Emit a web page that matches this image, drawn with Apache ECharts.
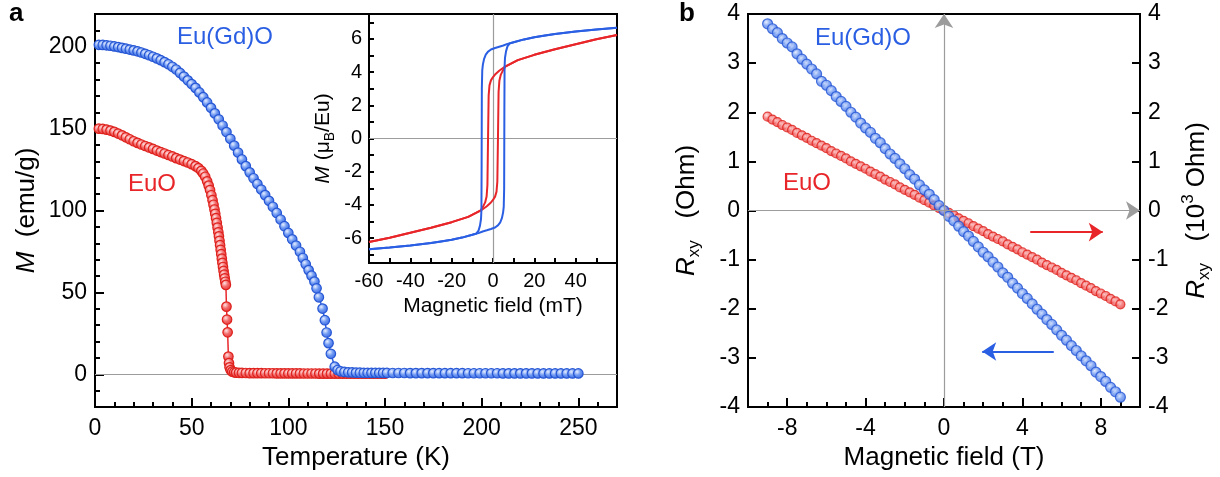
<!DOCTYPE html>
<html>
<head>
<meta charset="utf-8">
<script src="https://cdn.jsdelivr.net/npm/echarts@6/dist/echarts.min.js"></script>
<style>
  html, body { margin: 0; padding: 0; background: #fff; }
  #wrap { position: relative; width: 1220px; height: 477px; }
  .layer { position: absolute; left: 0; top: 0; width: 1220px; height: 477px; }
</style>
</head>
<body>
<div id="wrap">
  <div class="layer" id="panelA"></div>
  <div class="layer" id="inset"></div>
  <div class="layer" id="panelB"></div>
</div>
<script>
// ---- panel a: M(T) ----
const tempEuO = [2,4,6,8,10,12,14,16,18,20,22,24,26,28,30,32,34,36,38,40,42,44,46,48,50,52,
  53.5,55,56,57,58,58.8,59.5,60.2,60.8,61.3,61.8,62.2,62.6,63,63.4,63.8,
  64.1,64.4,64.7,65,65.3,65.6,65.9,66.2,66.5,66.8,67.1,67.4,67.7,
  68,68.3,68.6,69,69.3,69.6,70.2,71,72,73,74.5,76,78,
  80,82,84,86,88,90,92,94,96,98,100,102,104,106,108,110,112,114,116,118,120,122,124,126,128,130,132,134,136,138,140,142,144,146,148,150]
const mEuO = [150.0,149.8,149.4,148.8,148.0,147.0,145.9,144.7,143.5,
  142.3,141.3,140.3,139.4,138.5,137.6,136.6,135.7,134.8,133.9,133.0,132.0,131.1,130.2,129.3,128.3,127.1,
  125.9,124.2,122.6,120.6,117.8,115.2,112.5,109.3,106.3,103.5,100.6,98.0,95.3,92.5,89.6,86.7,
  84.2,81.5,78.8,76.0,73.3,70.6,68.0,65.5,63.1,60.8,58.6,56.5,54.6,
  41.3,33.4,25.6,10.8,6.8,4.2,2.5,1.6,1.2,1.0,0.9,0.8,0.75,
  0.7,0.7,0.65,0.65,0.6,0.6,0.6,0.55,0.55,0.55,0.5,0.5,0.5,0.5,0.45,0.45,0.45,0.45,
  0.4,0.4,0.4,0.4,0.4,0.4,0.35,0.35,0.35,0.35,0.35,0.35,0.3,0.3,0.3,0.3,0.3,0.3]

const tempEuGdO = [2,4,6,8,10,12,14,16,18,20,22,24,26,28,30,32,34,36,38,
  40,42,44,46,48,50,52,54,56,58,60,62,64,66,68,70,72,74,76,78,80,82,84,86,88,90,92,94,96,98,100,102,104,106,
  107.5,109,110.5,112,113.5,114.6,115.8,117.7,118.9,119.8,120.8,122,124,125.5,127,
  129,131,133,135,137,139,141,143,145,147,149,151,
  154,157,160,163,166,169,172,175,178,181,184,187,190,193,196,199,202,205,208,211,214,217,220,223,226,229,232,235,238,241,244,247,250]
const mEuGdO = [201.2,201.1,200.9,200.6,200.2,199.8,199.3,198.8,198.3,197.8,197.2,196.5,195.7,194.8,193.9,192.9,191.8,190.6,189.3,
  187.8,186.1,184.0,181.8,179.5,177.2,174.9,172.1,169.2,166.0,162.7,159.3,155.7,151.9,147.9,
  143.8,139.6,135.4,131.2,127.1,123.3,119.7,116.2,112.8,109.4,105.9,102.3,98.5,94.5,90.4,86.3,82.4,78.6,74.8,
  71.0,67.2,63.6,60.2,56.6,52.5,47.0,40.1,33.0,25.5,19.0,12.5,4.6,2.6,1.8,
  1.4,1.2,1.1,1.0,0.95,0.9,0.9,0.85,0.85,0.8,0.8,0.8,
  0.75,0.75,0.75,0.7,0.7,0.7,0.7,0.7,0.65,0.65,0.65,0.65,0.65,0.6,0.6,0.6,0.6,0.6,0.6,
  0.55,0.55,0.55,0.55,0.55,0.55,0.5,0.5,0.5,0.5,0.5,0.5,0.5,0.5]

const tempLabels = [0, 50, 100, 150, 200, 250]
const mLabels = [0, 50, 100, 150, 200]

// ---- inset: hysteresis loops ----
const hGdDown = [60,50,40,30,20,15,10,7,5,3,1,-1,-2.5,-3.5,-4.3,-4.9,-5.2,-5.4,-5.5,-5.6,-5.8,-6.3,-7,-8,-10,-15,-20,-25,-30,-40,-50,-60]
const mGdDown = [6.67,6.57,6.45,6.3,6.1,5.97,5.8,5.7,5.6,5.53,5.45,5.36,5.22,5.05,4.8,4.45,4.1,3.0,-1.5,-4.3,-4.85,-5.25,-5.55,-5.72,-5.8,-5.97,-6.1,-6.2,-6.3,-6.45,-6.57,-6.67]
const hGdUp = [-60,-50,-40,-30,-20,-15,-10,-7,-5,-3,-1,1,2.5,3.5,4.3,4.9,5.2,5.4,5.5,5.6,5.8,6.3,7,8,10,15,20,25,30,40,50,60]
const mGdUp = [-6.67,-6.57,-6.45,-6.3,-6.1,-5.97,-5.8,-5.7,-5.6,-5.53,-5.45,-5.36,-5.22,-5.05,-4.8,-4.45,-4.1,-3.0,1.5,4.3,4.85,5.25,5.55,5.72,5.8,5.97,6.1,6.2,6.3,6.45,6.57,6.67]
const hEuDown = [60,50,40,30,20,12,8,6,3,1,0,-1,-1.7,-2.1,-2.4,-2.7,-3.1,-3.8,-5,-6,-8,-12,-20,-30,-40,-50,-60]
const mEuDown = [6.24,5.98,5.68,5.38,5.04,4.72,4.47,4.35,4.08,3.85,3.7,3.5,3.2,2.6,0,-2.8,-3.5,-3.85,-4.15,-4.33,-4.47,-4.72,-5.04,-5.38,-5.68,-5.98,-6.24]
const hEuUp = [-60,-50,-40,-30,-20,-12,-8,-6,-3,-1,0,1,1.7,2.1,2.4,2.7,3.1,3.8,5,6,8,12,20,30,40,50,60]
const mEuUp = [-6.24,-5.98,-5.68,-5.38,-5.04,-4.72,-4.47,-4.35,-4.08,-3.85,-3.7,-3.5,-3.2,-2.6,0,2.8,3.5,3.85,4.15,4.33,4.47,4.72,5.04,5.38,5.68,5.98,6.24]

const insetHLabels = [-60, -40, -20, 0, 20, 40]
const insetMLabels = [-6, -4, -2, 0, 2, 4, 6]
const insetMTicks = [-7, -6, -5, -4, -3, -2, -1, 0, 1, 2, 3, 4, 5, 6, 7]

// ---- panel b: Hall resistance ----
const fieldB = [-9,-8.75,-8.5,-8.25,-8,-7.75,-7.5,-7.25,-7,-6.75,-6.5,-6.25,-6,-5.75,-5.5,-5.25,-5,-4.75,-4.5,-4.25,
  -4,-3.75,-3.5,-3.25,-3,-2.75,-2.5,-2.25,-2,-1.75,-1.5,-1.25,-1,-0.75,-0.5,-0.25,0,
  0.25,0.5,0.75,1,1.25,1.5,1.75,2,2.25,2.5,2.75,3,3.25,3.5,3.75,4,4.25,4.5,4.75,
  5,5.25,5.5,5.75,6,6.25,6.5,6.75,7,7.25,7.5,7.75,8,8.25,8.5,8.75,9]
const rxyEuGdO = [3.80,3.70,3.62,3.50,3.41,3.33,3.19,3.08,2.98,2.88,2.78,2.63,2.55,2.44,2.32,2.22,2.12,2.00,1.90,1.78,
  1.68,1.59,1.47,1.38,1.26,1.15,1.06,0.95,0.85,0.73,0.64,0.52,0.42,0.33,0.22,0.10,0.00,
  -0.12,-0.21,-0.32,-0.43,-0.52,-0.63,-0.74,-0.85,-0.94,-1.05,-1.15,-1.27,-1.36,-1.48,-1.58,-1.69,-1.79,-1.90,-2.01,
  -2.11,-2.22,-2.32,-2.43,-2.54,-2.64,-2.75,-2.85,-2.96,-3.06,-3.16,-3.29,-3.38,-3.48,-3.60,-3.69,-3.80]
const rxyEuO = [1.91,1.85,1.80,1.74,1.69,1.64,1.58,1.53,1.48,1.42,1.37,1.32,1.27,1.21,1.16,1.11,1.06,1.00,0.95,0.90,
  0.85,0.79,0.74,0.69,0.63,0.58,0.53,0.47,0.42,0.37,0.32,0.26,0.21,0.16,0.10,0.05,0.00,
  -0.05,-0.10,-0.16,-0.21,-0.26,-0.32,-0.37,-0.42,-0.48,-0.53,-0.58,-0.63,-0.69,-0.74,-0.79,-0.85,-0.90,-0.95,-1.00,
  -1.06,-1.11,-1.16,-1.21,-1.27,-1.32,-1.37,-1.42,-1.48,-1.53,-1.58,-1.64,-1.69,-1.74,-1.80,-1.85,-1.91]
const fieldLabels = [-8, -4, 0, 4, 8]
const arrowEuO = [[4.4, -0.44], [8.1, -0.44]]
const arrowEuGdO = [[5.6, -2.87], [1.95, -2.87]]

const FONT = '"Liberation Sans", Arial, Helvetica, sans-serif'
const BLUE = '#2b5fe3'
const RED = '#e8262a'
const GRAY = '#9c9c9c'

const pairs = (xs, ys) => xs.map((x, i) => [x, ys[i]])

function ball(light, mid, dark, border) {
  return {
    color: {
      type: 'radial', x: 0.38, y: 0.35, r: 0.7,
      colorStops: [
        { offset: 0, color: light },
        { offset: 0.45, color: mid },
        { offset: 1, color: dark }
      ]
    },
    borderColor: border,
    borderWidth: 1.2
  }
}
const blueBall = ball('#e6eeff', '#6f99f2', '#3666e2', '#2656d4')
const redBall = ball('#ffe2e2', '#f36c6c', '#e43232', '#de211c')

const tickLabel = () => ({ fontFamily: FONT, fontSize: 23, color: '#000' })
const nameStyle = (size, sub) => ({
  fontFamily: FONT, fontSize: size, color: '#000',
  rich: {
    i: { fontFamily: FONT, fontSize: size, fontStyle: 'italic', color: '#000' },
    s: { fontFamily: FONT, fontSize: sub, padding: [Math.round(size * 0.6), 0, 0, 0], color: '#000' },
    p: { fontFamily: FONT, fontSize: sub, padding: [0, 0, Math.round(size * 0.6), 0], color: '#000' }
  }
})
const axisLineOn = () => ({ show: true, onZero: false, lineStyle: { color: '#000', width: 2 } })
const axisLineOff = () => ({ show: false, onZero: false })
const tick = (len, extra) => Object.assign({ show: true, inside: true, length: len, lineStyle: { color: '#000', width: 2 } }, extra || {})
const grayLine = () => ({ color: GRAY, width: 1.2, type: 'solid' })

// ---------- panel a (main plot) ----------
echarts.init(document.getElementById('panelA')).setOption({
  animation: false,
  backgroundColor: '#fff',
  grid: { left: 95, top: 14, width: 522, height: 393, show: true, borderColor: '#000', borderWidth: 2 },
  xAxis: [
    {
      type: 'value', position: 'bottom', min: 0, max: 270, interval: 10,
      axisLine: axisLineOn(), axisTick: tick(5), splitLine: { show: false },
      axisLabel: Object.assign({ customValues: tempLabels, margin: 10 }, tickLabel()),
      name: 'Temperature (K)', nameLocation: 'middle', nameGap: 38, nameTextStyle: nameStyle(26, 17)
    },
    {
      type: 'value', position: 'bottom', min: 0, max: 270,
      axisLine: axisLineOff(), axisLabel: { show: false }, splitLine: { show: false },
      axisTick: tick(9, { customValues: tempLabels })
    }
  ],
  yAxis: [
    {
      type: 'value', position: 'left', min: -20, max: 220, interval: 10,
      axisLine: axisLineOn(), axisTick: tick(5), splitLine: { show: false },
      axisLabel: Object.assign({ customValues: mLabels, margin: 8 }, tickLabel()),
      name: '{i|M}  (emu/g)', nameLocation: 'middle', nameRotate: 90, nameGap: 55, nameTextStyle: nameStyle(26, 17)
    },
    {
      type: 'value', position: 'left', min: -20, max: 220,
      axisLine: axisLineOff(), axisLabel: { show: false }, splitLine: { show: false },
      axisTick: tick(9, { customValues: mLabels })
    }
  ],
  series: [
    {
      name: 'EuO', type: 'line', data: pairs(tempEuO, mEuO), symbol: 'circle', symbolSize: 9.5,
      lineStyle: { color: RED, width: 1.5 }, itemStyle: redBall,
      markLine: { silent: true, z: 1, symbol: 'none', label: { show: false }, lineStyle: grayLine(), data: [{ yAxis: 0 }] }
    },
    {
      name: 'Eu(Gd)O', type: 'line', data: pairs(tempEuGdO, mEuGdO), symbol: 'circle', symbolSize: 9.5,
      lineStyle: { color: BLUE, width: 1.5 }, itemStyle: blueBall
    }
  ],
  graphic: [
    { type: 'text', left: 9, top: 1, style: { text: 'a', font: 'bold 26px ' + FONT, fill: '#000' } },
    { type: 'text', left: 177, top: 25, style: { text: 'Eu(Gd)O', font: '24px ' + FONT, fill: BLUE } },
    { type: 'text', left: 128, top: 172, style: { text: 'EuO', font: '24px ' + FONT, fill: RED } }
  ]
})

// ---------- inset of panel a ----------
echarts.init(document.getElementById('inset')).setOption({
  animation: false,
  backgroundColor: 'transparent',
  grid: { left: 369, top: 14, width: 248, height: 249, show: true, borderColor: '#000', borderWidth: 2, backgroundColor: '#fff' },
  xAxis: {
    type: 'value', position: 'bottom', min: -60, max: 60, interval: 10,
    axisLine: axisLineOn(), axisTick: tick(5), splitLine: { show: false },
    axisLabel: { customValues: insetHLabels, margin: 8, fontFamily: FONT, fontSize: 20, color: '#000' },
    name: 'Magnetic field (mT)', nameLocation: 'middle', nameGap: 33, nameTextStyle: nameStyle(21, 14)
  },
  yAxis: {
    type: 'value', position: 'left', min: -7.5, max: 7.5,
    axisLine: axisLineOn(), axisTick: tick(5, { customValues: insetMTicks }), splitLine: { show: false },
    axisLabel: { customValues: insetMLabels, margin: 7, fontFamily: FONT, fontSize: 20, color: '#000' },
    name: '{i|M} (μ{s|B}/Eu)', nameLocation: 'middle', nameRotate: 90, nameGap: 32, nameTextStyle: nameStyle(21, 14)
  },
  series: [
    {
      type: 'line', data: pairs(hEuDown, mEuDown), showSymbol: false, lineStyle: { color: RED, width: 2 },
      markLine: { silent: true, z: 1, symbol: 'none', label: { show: false }, lineStyle: grayLine(), data: [{ yAxis: 0 }, { xAxis: 0 }] }
    },
    { type: 'line', data: pairs(hEuUp, mEuUp), showSymbol: false, lineStyle: { color: RED, width: 2 } },
    { type: 'line', data: pairs(hGdDown, mGdDown), showSymbol: false, lineStyle: { color: BLUE, width: 2 } },
    { type: 'line', data: pairs(hGdUp, mGdUp), showSymbol: false, lineStyle: { color: BLUE, width: 2 } }
  ]
})

// ---------- panel b ----------
echarts.init(document.getElementById('panelB')).setOption({
  animation: false,
  backgroundColor: 'transparent',
  grid: { left: 748, top: 14, width: 392, height: 393, show: true, borderColor: '#000', borderWidth: 2 },
  xAxis: [
    {
      type: 'value', position: 'bottom', min: -10, max: 10, interval: 1,
      axisLine: axisLineOn(), axisTick: tick(5), splitLine: { show: false },
      axisLabel: Object.assign({ customValues: fieldLabels, margin: 10 }, tickLabel()),
      name: 'Magnetic field (T)', nameLocation: 'middle', nameGap: 38, nameTextStyle: nameStyle(26, 17)
    },
    {
      type: 'value', position: 'bottom', min: -10, max: 10,
      axisLine: axisLineOff(), axisLabel: { show: false }, splitLine: { show: false },
      axisTick: tick(9, { customValues: fieldLabels })
    }
  ],
  yAxis: [
    {
      type: 'value', position: 'left', min: -4, max: 4, interval: 1,
      axisLine: axisLineOn(), axisTick: tick(8), splitLine: { show: false },
      axisLabel: Object.assign({ margin: 8 }, tickLabel()),
      name: '{i|R}{s|xy}   (Ohm)', nameLocation: 'middle', nameRotate: 90, nameGap: 45, nameTextStyle: nameStyle(26, 17)
    },
    {
      type: 'value', position: 'right', min: -4, max: 4, interval: 1,
      axisLine: axisLineOn(), axisTick: tick(8), splitLine: { show: false },
      axisLabel: Object.assign({ margin: 8 }, tickLabel()),
      name: '{i|R}{s|xy}   (10{p|3} Ohm)', nameLocation: 'middle', nameRotate: 90, nameGap: 40, nameTextStyle: nameStyle(26, 17)
    }
  ],
  series: [
    {
      name: 'EuO', type: 'scatter', xAxisIndex: 0, yAxisIndex: 1,
      data: pairs(fieldB, rxyEuO), symbol: 'circle', symbolSize: 9, itemStyle: redBall,
      markLine: {
        silent: true, symbol: ['none', 'arrow'], symbolSize: 14, label: { show: false },
        lineStyle: { color: RED, width: 2, type: 'solid' },
        data: [
          { yAxis: 0, symbol: 'none', lineStyle: grayLine() },
          { xAxis: 0, symbol: 'none', lineStyle: grayLine() },
          [{ coord: arrowEuO[0] }, { coord: arrowEuO[1] }]
        ]
      }
    },
    {
      name: 'Eu(Gd)O', type: 'scatter', xAxisIndex: 0, yAxisIndex: 0,
      data: pairs(fieldB, rxyEuGdO), symbol: 'circle', symbolSize: 10, itemStyle: blueBall,
      markLine: {
        silent: true, symbol: ['none', 'arrow'], symbolSize: 14, label: { show: false },
        lineStyle: { color: BLUE, width: 2, type: 'solid' },
        data: [[{ coord: arrowEuGdO[0] }, { coord: arrowEuGdO[1] }]]
      }
    }
  ],
  graphic: [
    { type: 'text', left: 679, top: 1, style: { text: 'b', font: 'bold 26px ' + FONT, fill: '#000' } },
    { type: 'text', left: 815, top: 26, style: { text: 'Eu(Gd)O', font: '24px ' + FONT, fill: BLUE } },
    { type: 'text', left: 783, top: 171, style: { text: 'EuO', font: '24px ' + FONT, fill: RED } }
  ]
})
</script>
</body>
</html>
